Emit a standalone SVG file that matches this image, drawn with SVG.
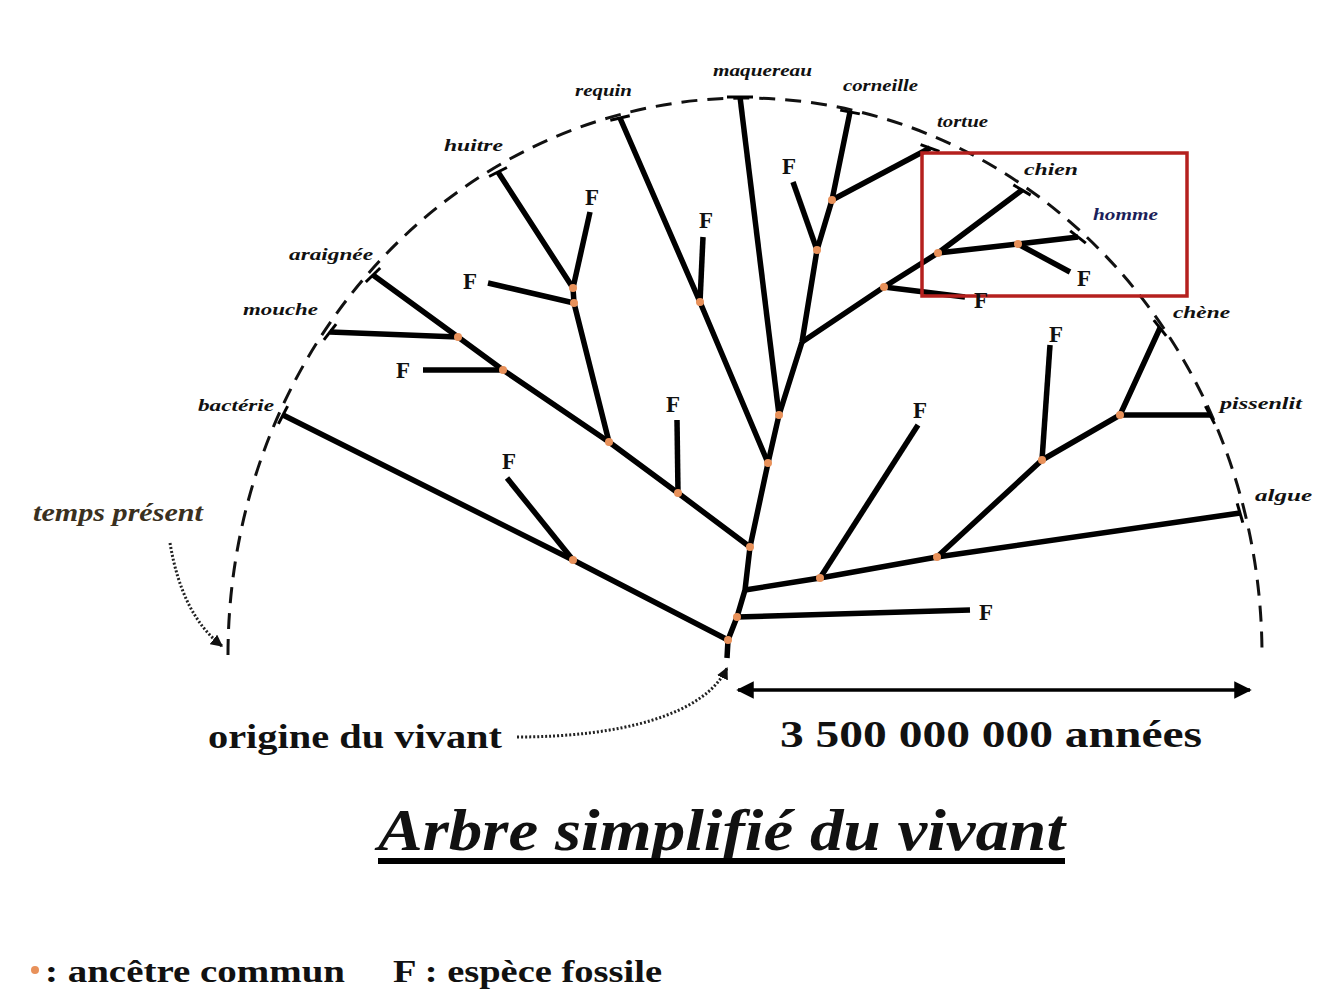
<svg xmlns="http://www.w3.org/2000/svg" width="1318" height="993" viewBox="0 0 1318 993">
<defs>
<style>
.br{fill:none;stroke:#000;stroke-width:5.5;stroke-linejoin:round;stroke-linecap:butt}
.tk{stroke:#000;stroke-width:3}
.dot{fill:#e8915a}
.lab{font-family:"Liberation Serif",serif;font-style:italic;font-weight:bold;font-size:16px;fill:#111}
.f{font-family:"Liberation Serif",serif;font-weight:bold;font-size:23px;fill:#111;text-anchor:middle}
.big{font-family:"Liberation Serif",serif;font-weight:bold;fill:#111}
</style>
<marker id="ah" viewBox="0 0 10 10" refX="9" refY="5" markerWidth="5" markerHeight="5" orient="auto-start-reverse" markerUnits="strokeWidth">
<path d="M0,0 L10,5 L0,10 Z" fill="#000"/>
</marker>
<marker id="ah2" viewBox="0 0 10 10" refX="9" refY="5" markerWidth="4" markerHeight="4" orient="auto" markerUnits="strokeWidth">
<path d="M0,0 L10,5 L0,10 Z" fill="#111"/>
</marker>
</defs>
<rect width="1318" height="993" fill="#fff"/>

<path id="arc" d="M228,655 A517,557 0 0 1 1262,655" fill="none" stroke="#111" stroke-width="3" stroke-dasharray="16 10"/>

<g id="connectors">
<polyline class="br" points="727,658 728,640 737,617 745,590 750,547 768,463 779,415 802,342 817,250 832,200 850,112"/>
<polyline class="br" points="779,415 740,97"/>
<polyline class="br" points="768,463 700,302 620,118"/>
<polyline class="br" points="700,302 703,237"/>
<polyline class="br" points="609,442 574,303 573,288 498,172"/>
<polyline class="br" points="573,288 590,212"/>
<polyline class="br" points="574,303 488,283"/>
<polyline class="br" points="750,547 678,493 609,442 503,370 458,337 373,275"/>
<polyline class="br" points="678,493 677,420"/>
<polyline class="br" points="503,370 423,370"/>
<polyline class="br" points="458,337 330,332"/>
<polyline class="br" points="728,640 573,560 283,415"/>
<polyline class="br" points="573,560 507,478"/>
<polyline class="br" points="737,617 970,610"/>
<polyline class="br" points="745,590 820,578 937,557 1240,513"/>
<polyline class="br" points="820,578 918,425"/>
<polyline class="br" points="937,557 1042,460 1120,415 1160,328"/>
<polyline class="br" points="1042,460 1050,345"/>
<polyline class="br" points="1120,415 1210,415"/>
<polyline class="br" points="832,200 930,148"/>
<polyline class="br" points="817,250 793,182"/>
<polyline class="br" points="802,342 884,287 938,253 1022,190"/>
<polyline class="br" points="884,287 965,297"/>
<polyline class="br" points="938,253 1018,244 1078,237"/>
<polyline class="br" points="1018,244 1070,272"/>
<!-- tip ticks -->
<line class="tk" x1="287.6" y1="406.1" x2="278.4" y2="423.9"/>
<line class="tk" x1="380.2" y1="268" x2="365.8" y2="282"/>
<line class="tk" x1="336.1" y1="324.1" x2="323.9" y2="339.9"/>
<line class="tk" x1="506.9" y1="167.5" x2="489.1" y2="176.5"/>
<line class="tk" x1="629.7" y1="115.7" x2="610.3" y2="120.3"/>
<line class="tk" x1="727" y1="97" x2="753" y2="97"/>
<line class="tk" x1="859.8" y1="113.9" x2="840.2" y2="110.1"/>
<line class="tk" x1="939.4" y1="151.4" x2="920.6" y2="144.6"/>
<line class="tk" x1="1030.6" y1="195.1" x2="1013.4" y2="184.9"/>
<line class="tk" x1="1085.8" y1="243.2" x2="1070.2" y2="230.8"/>
<line class="tk" x1="1166.2" y1="335.9" x2="1153.8" y2="320.1"/>
<line class="tk" x1="1214.6" y1="423.9" x2="1205.4" y2="406.1"/>
<line class="tk" x1="1242.8" y1="522.6" x2="1237.2" y2="503.4"/>
<!-- arrows -->
<path d="M170,543 Q182,615 222,646" fill="none" stroke="#222" stroke-width="3" stroke-dasharray="2 2" marker-end="url(#ah2)"/>
<path d="M517,737 C620,737 705,715 727,668" fill="none" stroke="#222" stroke-width="3" stroke-dasharray="2 2" marker-end="url(#ah2)"/>
<line x1="738" y1="690" x2="1250" y2="690" stroke="#000" stroke-width="3.5" marker-start="url(#ah)" marker-end="url(#ah)"/>
</g>

<g id="ancestors">
<circle class="dot" cx="458" cy="337" r="4"/>
<circle class="dot" cx="503" cy="370" r="4"/>
<circle class="dot" cx="573" cy="288" r="4"/>
<circle class="dot" cx="574" cy="303" r="4"/>
<circle class="dot" cx="609" cy="442" r="4"/>
<circle class="dot" cx="678" cy="493" r="4"/>
<circle class="dot" cx="700" cy="302" r="4"/>
<circle class="dot" cx="573" cy="560" r="4"/>
<circle class="dot" cx="750" cy="547" r="4"/>
<circle class="dot" cx="768" cy="463" r="4"/>
<circle class="dot" cx="779" cy="415" r="4"/>
<circle class="dot" cx="817" cy="250" r="4"/>
<circle class="dot" cx="832" cy="200" r="4"/>
<circle class="dot" cx="884" cy="287" r="4"/>
<circle class="dot" cx="938" cy="253" r="4"/>
<circle class="dot" cx="1018" cy="244" r="4"/>
<circle class="dot" cx="737" cy="617" r="4"/>
<circle class="dot" cx="728" cy="640" r="4"/>
<circle class="dot" cx="820" cy="578" r="4"/>
<circle class="dot" cx="937" cy="557" r="4"/>
<circle class="dot" cx="1042" cy="460" r="4"/>
<circle class="dot" cx="1120" cy="415" r="4"/>
</g>

<g id="highlight">
<rect x="922" y="153" width="265" height="143" fill="none" stroke="#b5201e" stroke-width="3.5"/>
</g>

<g id="taxa">
<g id="t-maquereau"><text class="lab" x="713" y="76" textLength="99" lengthAdjust="spacingAndGlyphs">maquereau</text></g>
<g id="t-requin"><text class="lab" x="575" y="96" textLength="57" lengthAdjust="spacingAndGlyphs">requin</text></g>
<g id="t-corneille"><text class="lab" x="843" y="91" textLength="75" lengthAdjust="spacingAndGlyphs">corneille</text></g>
<g id="t-tortue"><text class="lab" x="937" y="127" textLength="51" lengthAdjust="spacingAndGlyphs">tortue</text></g>
<g id="t-huitre"><text class="lab" x="444" y="151" textLength="59" lengthAdjust="spacingAndGlyphs">huitre</text></g>
<g id="t-chien"><text class="lab" x="1024" y="175" textLength="54" lengthAdjust="spacingAndGlyphs">chien</text></g>
<g id="t-homme"><text class="lab" x="1093" y="220" textLength="65" lengthAdjust="spacingAndGlyphs" style="fill:#1c1f5a">homme</text></g>
<g id="t-araignee"><text class="lab" x="289" y="260" textLength="84" lengthAdjust="spacingAndGlyphs">araignée</text></g>
<g id="t-mouche"><text class="lab" x="243" y="315" textLength="75" lengthAdjust="spacingAndGlyphs">mouche</text></g>
<g id="t-bacterie"><text class="lab" x="198" y="411" textLength="76" lengthAdjust="spacingAndGlyphs">bactérie</text></g>
<g id="t-chene"><text class="lab" x="1173" y="318" textLength="57" lengthAdjust="spacingAndGlyphs">chène</text></g>
<g id="t-pissenlit"><text class="lab" x="1220" y="409" textLength="82" lengthAdjust="spacingAndGlyphs">pissenlit</text></g>
<g id="t-algue"><text class="lab" x="1255" y="501" textLength="57" lengthAdjust="spacingAndGlyphs">algue</text></g>
</g>

<g id="fossils">
<text class="f" x="592" y="205">F</text>
<text class="f" x="470" y="289">F</text>
<text class="f" x="403" y="378">F</text>
<text class="f" x="706" y="228">F</text>
<text class="f" x="789" y="174">F</text>
<text class="f" x="673" y="412">F</text>
<text class="f" x="509" y="469">F</text>
<text class="f" x="920" y="418">F</text>
<text class="f" x="1056" y="342">F</text>
<text class="f" x="981" y="308">F</text>
<text class="f" x="1084" y="286">F</text>
<text class="f" x="986" y="620">F</text>
</g>

<g id="annotations">
<text x="33" y="521" textLength="170" lengthAdjust="spacingAndGlyphs" style="font-family:'Liberation Serif',serif;font-style:italic;font-weight:bold;font-size:26px;fill:#3a3020">temps présent</text>
<text class="big" x="208" y="748" textLength="294" lengthAdjust="spacingAndGlyphs" style="font-size:33px">origine du vivant</text>
<text class="big" x="780" y="747" textLength="422" lengthAdjust="spacingAndGlyphs" style="font-size:37px">3 500 000 000 années</text>
</g>

<g id="title">
<text class="big" x="378" y="850" textLength="687" lengthAdjust="spacingAndGlyphs" style="font-size:60px;font-style:italic">Arbre simplifié du vivant</text>
<rect x="378" y="858" width="687" height="6" fill="#000"/>
</g>

<g id="legend">
<circle class="dot" cx="35" cy="970" r="4"/>
<text class="big" x="45" y="982" textLength="300" lengthAdjust="spacingAndGlyphs" style="font-size:31px">: ancêtre commun</text>
<text class="big" x="393" y="982" textLength="269" lengthAdjust="spacingAndGlyphs" style="font-size:31px">F : espèce fossile</text>
</g>
</svg>
